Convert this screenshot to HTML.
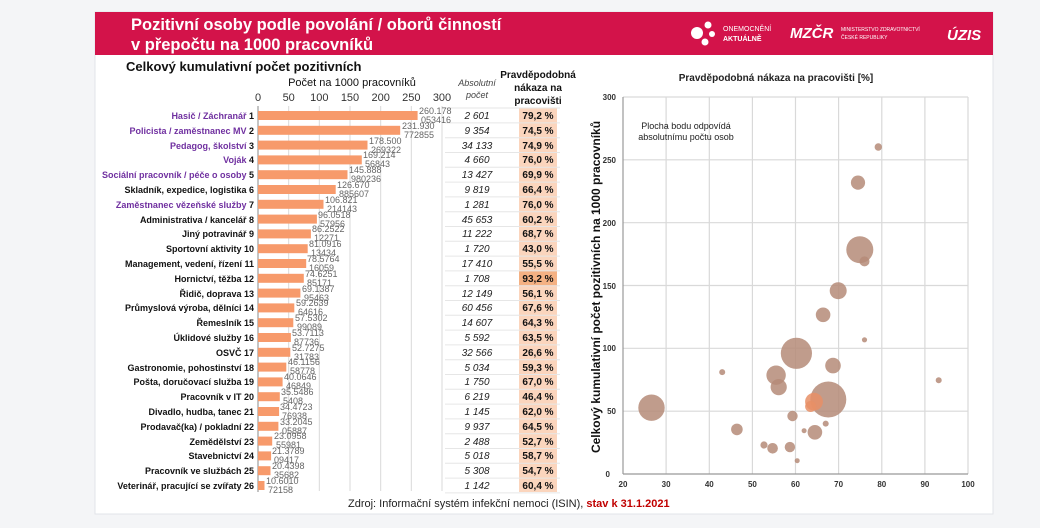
<!DOCTYPE html>
<html><head><meta charset="utf-8"><style>
html,body{margin:0;padding:0;background:#f4f5f7;width:1040px;height:528px;overflow:hidden}
svg{display:block;font-family:"Liberation Sans",sans-serif}
</style></head><body>
<svg width="1040" height="528" viewBox="0 0 1040 528" xmlns="http://www.w3.org/2000/svg">
<rect x="95" y="12" width="898" height="502" fill="#fff" stroke="#e2e4e8"/>
<rect x="95" y="12" width="898" height="43" fill="#d3134a"/>
<text x="131" y="30" fill="#fff" font-size="16.5" font-weight="bold">Pozitivní osoby podle povolání / oborů činností</text>
<text x="131" y="50" fill="#fff" font-size="16.5" font-weight="bold">v přepočtu na 1000 pracovníků</text>
<circle cx="697" cy="33" r="6" fill="#fff"/><circle cx="708" cy="25" r="3.5" fill="#fff"/><circle cx="712" cy="34" r="3" fill="#fff"/><circle cx="705" cy="42" r="3.5" fill="#fff"/>
<text x="723" y="31" fill="#fff" font-size="7">ONEMOCNĚNÍ</text><text x="723" y="41" fill="#fff" font-size="7" font-weight="bold">AKTUÁLNĚ</text>
<text x="790" y="38" fill="#fff" font-size="15" font-weight="bold" font-style="italic">MZČR</text>
<text x="841" y="31" fill="#fff" font-size="5">MINISTERSTVO ZDRAVOTNICTVÍ</text><text x="841" y="39" fill="#fff" font-size="5">ČESKÉ REPUBLIKY</text>
<text x="947" y="40" fill="#fff" font-size="15" font-weight="bold" font-style="italic">ÚZIS</text>

<text x="126" y="71" font-size="13" font-weight="bold" fill="#111">Celkový kumulativní počet pozitivních</text>
<text x="352" y="86" font-size="11" text-anchor="middle" fill="#111">Počet na 1000 pracovníků</text>
<g font-size="11" fill="#333" text-anchor="middle">
<text x="258" y="101">0</text><text x="288.7" y="101">50</text><text x="319.3" y="101">100</text><text x="350" y="101">150</text><text x="380.7" y="101">200</text><text x="411.3" y="101">250</text><text x="442" y="101">300</text></g>
<g stroke="#d9d9d9" stroke-width="1">
<line x1="288.7" y1="106" x2="288.7" y2="491"/><line x1="319.3" y1="106" x2="319.3" y2="491"/><line x1="350" y1="106" x2="350" y2="491"/><line x1="380.7" y1="106" x2="380.7" y2="491"/><line x1="411.3" y1="106" x2="411.3" y2="491"/><line x1="442" y1="106" x2="442" y2="491"/>
</g>
<line x1="258" y1="106" x2="258" y2="492" stroke="#888"/>
<text x="477" y="86" font-size="9" font-style="italic" text-anchor="middle" fill="#444">Absolutní</text>
<text x="477" y="98" font-size="9" font-style="italic" text-anchor="middle" fill="#444">počet</text>
<g font-size="10" font-weight="bold" text-anchor="middle" fill="#111"><text x="538" y="78">Pravděpodobná</text><text x="538" y="91">nákaza na</text><text x="538" y="104">pracovišti</text></g>
<rect x="519" y="108" width="38" height="384" fill="#fbd5bd"/>
<rect x="519" y="271" width="38" height="14.8" fill="#f4b183"/>
<g stroke="#e6e6e6"><line x1="445" y1="108" x2="560" y2="108"/>
<line x1="445" y1="122.9" x2="560" y2="122.9"/><line x1="445" y1="137.7" x2="560" y2="137.7"/><line x1="445" y1="152.5" x2="560" y2="152.5"/><line x1="445" y1="167.3" x2="560" y2="167.3"/><line x1="445" y1="182.1" x2="560" y2="182.1"/><line x1="445" y1="196.9" x2="560" y2="196.9"/><line x1="445" y1="211.7" x2="560" y2="211.7"/><line x1="445" y1="226.5" x2="560" y2="226.5"/><line x1="445" y1="241.3" x2="560" y2="241.3"/><line x1="445" y1="256.1" x2="560" y2="256.1"/><line x1="445" y1="270.9" x2="560" y2="270.9"/><line x1="445" y1="285.7" x2="560" y2="285.7"/><line x1="445" y1="300.5" x2="560" y2="300.5"/><line x1="445" y1="315.3" x2="560" y2="315.3"/><line x1="445" y1="330.1" x2="560" y2="330.1"/><line x1="445" y1="344.9" x2="560" y2="344.9"/><line x1="445" y1="359.7" x2="560" y2="359.7"/><line x1="445" y1="374.5" x2="560" y2="374.5"/><line x1="445" y1="389.3" x2="560" y2="389.3"/><line x1="445" y1="404.1" x2="560" y2="404.1"/><line x1="445" y1="418.9" x2="560" y2="418.9"/><line x1="445" y1="433.7" x2="560" y2="433.7"/><line x1="445" y1="448.5" x2="560" y2="448.5"/><line x1="445" y1="463.3" x2="560" y2="463.3"/><line x1="445" y1="478.1" x2="560" y2="478.1"/><line x1="445" y1="492.9" x2="560" y2="492.9"/></g>

<g fill="#f79a6b">
<rect x="258" y="111" width="159.6" height="9"/><rect x="258" y="125.8" width="142.2" height="9"/><rect x="258" y="140.6" width="109.5" height="9"/><rect x="258" y="155.4" width="103.8" height="9"/><rect x="258" y="170.2" width="89.5" height="9"/><rect x="258" y="185" width="77.7" height="9"/><rect x="258" y="199.8" width="65.5" height="9"/><rect x="258" y="214.6" width="58.9" height="9"/><rect x="258" y="229.4" width="52.9" height="9"/><rect x="258" y="244.2" width="49.7" height="9"/><rect x="258" y="259" width="48.2" height="9"/><rect x="258" y="273.8" width="45.8" height="9"/><rect x="258" y="288.6" width="42.4" height="9"/><rect x="258" y="303.4" width="36.3" height="9"/><rect x="258" y="318.2" width="35.3" height="9"/><rect x="258" y="333" width="32.9" height="9"/><rect x="258" y="347.8" width="32.3" height="9"/><rect x="258" y="362.6" width="28.3" height="9"/><rect x="258" y="377.4" width="24.6" height="9"/><rect x="258" y="392.2" width="21.8" height="9"/><rect x="258" y="407" width="21.1" height="9"/><rect x="258" y="421.8" width="20.4" height="9"/><rect x="258" y="436.6" width="14.2" height="9"/><rect x="258" y="451.4" width="13.1" height="9"/><rect x="258" y="466.2" width="12.5" height="9"/><rect x="258" y="481" width="6.5" height="9"/>
</g>
<g font-size="9" fill="#666">
<text x="419" y="114">260.178</text><text x="421" y="123">053416</text>
<text x="402" y="129">231.930</text><text x="404" y="138">772855</text>
<text x="369" y="144">178.500</text><text x="371" y="153">269322</text>
<text x="363" y="158">169.214</text><text x="365" y="167">56843</text>
<text x="349" y="173">145.888</text><text x="351" y="182">980236</text>
<text x="337" y="188">126.670</text><text x="339" y="197">885607</text>
<text x="325" y="203">106.821</text><text x="327" y="212">214143</text>
<text x="318" y="218">96.0518</text><text x="320" y="227">57956</text>
<text x="312" y="232">86.2522</text><text x="314" y="241">12271</text>
<text x="309" y="247">81.0916</text><text x="311" y="256">13434</text>
<text x="307" y="262">78.5764</text><text x="309" y="271">16059</text>
<text x="305" y="277">74.6251</text><text x="307" y="286">85171</text>
<text x="302" y="292">69.1387</text><text x="304" y="301">95463</text>
<text x="296" y="306">59.2639</text><text x="298" y="315">64616</text>
<text x="295" y="321">57.5302</text><text x="297" y="330">99089</text>
<text x="292" y="336">53.7113</text><text x="294" y="345">87736</text>
<text x="292" y="351">52.7275</text><text x="294" y="360">31783</text>
<text x="288" y="365">46.1156</text><text x="290" y="374">58778</text>
<text x="284" y="380">40.0646</text><text x="286" y="389">46849</text>
<text x="281" y="395">35.5486</text><text x="283" y="404">5408</text>
<text x="280" y="410">34.4723</text><text x="282" y="419">76938</text>
<text x="280" y="425">33.2045</text><text x="282" y="434">05887</text>
<text x="274" y="439">23.0958</text><text x="276" y="448">55981</text>
<text x="272" y="454">21.3789</text><text x="274" y="463">09417</text>
<text x="272" y="469">20.4398</text><text x="274" y="478">35682</text>
<text x="266" y="484">10.6010</text><text x="268" y="493">72158</text>
</g>
<g font-size="9" font-weight="bold" text-anchor="end" fill="#111">
<text x="254" y="119"><tspan fill="#7030a0">Hasič / Záchranář</tspan> 1</text>
<text x="254" y="134"><tspan fill="#7030a0">Policista / zaměstnanec MV</tspan> 2</text>
<text x="254" y="149"><tspan fill="#7030a0">Pedagog, školství</tspan> 3</text>
<text x="254" y="163"><tspan fill="#7030a0">Voják</tspan> 4</text>
<text x="254" y="178"><tspan fill="#7030a0">Sociální pracovník / péče o osoby</tspan> 5</text>
<text x="254" y="193">Skladník, expedice, logistika 6</text>
<text x="254" y="208"><tspan fill="#7030a0">Zaměstnanec vězeňské služby</tspan> 7</text>
<text x="254" y="223">Administrativa / kancelář 8</text>
<text x="254" y="237">Jiný potravinář 9</text>
<text x="254" y="252">Sportovní aktivity 10</text>
<text x="254" y="267">Management, vedení, řízení 11</text>
<text x="254" y="282">Hornictví, těžba 12</text>
<text x="254" y="297">Řidič, doprava 13</text>
<text x="254" y="311">Průmyslová výroba, dělníci 14</text>
<text x="254" y="326">Řemeslník 15</text>
<text x="254" y="341">Úklidové služby 16</text>
<text x="254" y="356">OSVČ 17</text>
<text x="254" y="371">Gastronomie, pohostinství 18</text>
<text x="254" y="385">Pošta, doručovací služba 19</text>
<text x="254" y="400">Pracovník v IT 20</text>
<text x="254" y="415">Divadlo, hudba, tanec 21</text>
<text x="254" y="430">Prodavač(ka) / pokladní 22</text>
<text x="254" y="445">Zemědělství 23</text>
<text x="254" y="459">Stavebnictví 24</text>
<text x="254" y="474">Pracovník ve službách 25</text>
<text x="254" y="489">Veterinář, pracující se zvířaty 26</text>
</g>
<g font-size="10" font-style="italic" text-anchor="middle" fill="#222">
<text x="477" y="119">2 601</text><text x="477" y="134">9 354</text><text x="477" y="149">34 133</text><text x="477" y="163">4 660</text><text x="477" y="178">13 427</text><text x="477" y="193">9 819</text><text x="477" y="208">1 281</text><text x="477" y="223">45 653</text><text x="477" y="237">11 222</text><text x="477" y="252">1 720</text><text x="477" y="267">17 410</text><text x="477" y="282">1 708</text><text x="477" y="297">12 149</text><text x="477" y="311">60 456</text><text x="477" y="326">14 607</text><text x="477" y="341">5 592</text><text x="477" y="356">32 566</text><text x="477" y="371">5 034</text><text x="477" y="385">1 750</text><text x="477" y="400">6 219</text><text x="477" y="415">1 145</text><text x="477" y="430">9 937</text><text x="477" y="445">2 488</text><text x="477" y="459">5 018</text><text x="477" y="474">5 308</text><text x="477" y="489">1 142</text>
</g>
<g font-size="10" font-weight="bold" text-anchor="middle" fill="#111">
<text x="538" y="119">79,2 %</text><text x="538" y="134">74,5 %</text><text x="538" y="149">74,9 %</text><text x="538" y="163">76,0 %</text><text x="538" y="178">69,9 %</text><text x="538" y="193">66,4 %</text><text x="538" y="208">76,0 %</text><text x="538" y="223">60,2 %</text><text x="538" y="237">68,7 %</text><text x="538" y="252">43,0 %</text><text x="538" y="267">55,5 %</text><text x="538" y="282">93,2 %</text><text x="538" y="297">56,1 %</text><text x="538" y="311">67,6 %</text><text x="538" y="326">64,3 %</text><text x="538" y="341">63,5 %</text><text x="538" y="356">26,6 %</text><text x="538" y="371">59,3 %</text><text x="538" y="385">67,0 %</text><text x="538" y="400">46,4 %</text><text x="538" y="415">62,0 %</text><text x="538" y="430">64,5 %</text><text x="538" y="445">52,7 %</text><text x="538" y="459">58,7 %</text><text x="538" y="474">54,7 %</text><text x="538" y="489">60,4 %</text>
</g>

<text x="776" y="81" font-size="10" font-weight="bold" text-anchor="middle" fill="#222">Pravděpodobná nákaza na pracovišti [%]</text>
<g stroke="#d9d9d9" stroke-width="1.2">
<line x1="666.1" y1="97" x2="666.1" y2="474"/><line x1="709.3" y1="97" x2="709.3" y2="474"/><line x1="752.4" y1="97" x2="752.4" y2="474"/><line x1="795.5" y1="97" x2="795.5" y2="474"/><line x1="838.6" y1="97" x2="838.6" y2="474"/><line x1="881.8" y1="97" x2="881.8" y2="474"/><line x1="924.9" y1="97" x2="924.9" y2="474"/><line x1="968" y1="97" x2="968" y2="474"/>
<line x1="623" y1="97" x2="968" y2="97"/><line x1="623" y1="159.8" x2="968" y2="159.8"/><line x1="623" y1="222.7" x2="968" y2="222.7"/><line x1="623" y1="285.5" x2="968" y2="285.5"/><line x1="623" y1="348.3" x2="968" y2="348.3"/><line x1="623" y1="411.2" x2="968" y2="411.2"/>
</g>
<line x1="623" y1="97" x2="623" y2="474" stroke="#999" stroke-width="1.2"/><line x1="623" y1="474" x2="968" y2="474" stroke="#999" stroke-width="1.2"/>
<g font-size="8" font-weight="bold" fill="#333" text-anchor="end">
<text x="616" y="100">300</text><text x="616" y="163">250</text><text x="616" y="226">200</text><text x="616" y="289">150</text><text x="616" y="351">100</text><text x="616" y="414">50</text><text x="610" y="477">0</text></g>
<g font-size="8" font-weight="bold" fill="#333" text-anchor="middle">
<text x="623" y="487">20</text><text x="666.1" y="487">30</text><text x="709.3" y="487">40</text><text x="752.4" y="487">50</text><text x="795.5" y="487">60</text><text x="838.6" y="487">70</text><text x="881.8" y="487">80</text><text x="924.9" y="487">90</text><text x="968" y="487">100</text></g>
<text transform="translate(600,287) rotate(-90)" font-size="12" font-weight="bold" text-anchor="middle" fill="#111">Celkový kumulativní počet pozitivních na 1000 pracovníků</text>
<text x="686" y="129" font-size="9" text-anchor="middle" fill="#222">Plocha bodu odpovídá</text>
<text x="686" y="140" font-size="9" text-anchor="middle" fill="#222">absolutnímu počtu osob</text>
<g fill="#b58b78" fill-opacity="0.85">
<circle cx="878.3" cy="147" r="3.7"/><circle cx="858" cy="182.6" r="7.1"/><circle cx="859.8" cy="249.7" r="13.5"/><circle cx="864.5" cy="261.4" r="5"/><circle cx="838.2" cy="290.7" r="8.5"/><circle cx="823.1" cy="314.8" r="7.3"/><circle cx="864.5" cy="339.8" r="2.6"/><circle cx="796.4" cy="353.3" r="15.6"/><circle cx="833" cy="365.6" r="7.8"/><circle cx="722.2" cy="372.1" r="3"/><circle cx="776.1" cy="375.2" r="9.7"/><circle cx="938.7" cy="380.2" r="3"/><circle cx="778.7" cy="387.1" r="8.1"/><circle cx="828.3" cy="399.5" r="18"/><circle cx="814" cy="401.7" r="8.9" fill="#e88f66"/><circle cx="810.6" cy="406.5" r="5.5" fill="#e88f66"/><circle cx="651.5" cy="407.7" r="13.2"/><circle cx="792.5" cy="416" r="5.2"/><circle cx="825.7" cy="423.6" r="3"/><circle cx="736.9" cy="429.4" r="5.8"/><circle cx="804.1" cy="430.7" r="2.5"/><circle cx="814.9" cy="432.3" r="7.3"/><circle cx="764" cy="445" r="3.6"/><circle cx="789.9" cy="447.1" r="5.2"/><circle cx="772.6" cy="448.3" r="5.3"/><circle cx="797.2" cy="460.7" r="2.5"/>
</g>
<text x="348" y="507" font-size="11" fill="#222">Zdroj: Informační systém infekční nemoci (ISIN), <tspan fill="#c00000" font-weight="bold">stav k 31.1.2021</tspan></text>
</svg>
</body></html>
